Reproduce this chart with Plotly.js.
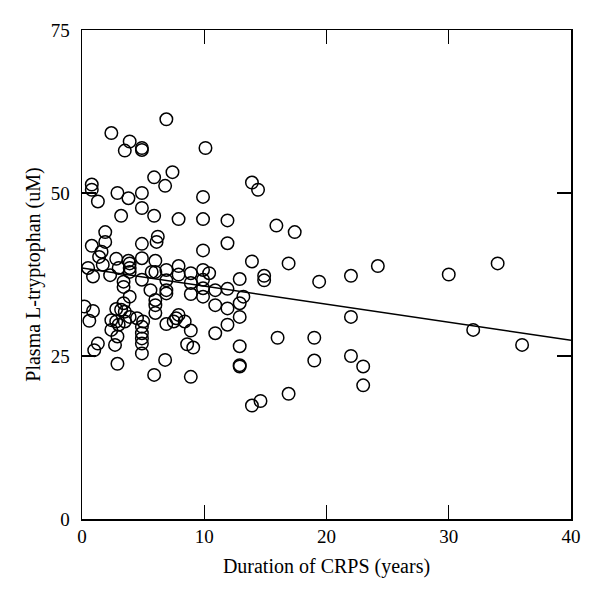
<!DOCTYPE html>
<html>
<head>
<meta charset="utf-8">
<script src="https://cdn.plot.ly/plotly-3.0.1.min.js"></script>
<style>html,body{margin:0;padding:0;background:#fff;}#chart{width:600px;height:599px;}</style>
</head>
<body>
<div id="chart"></div>
<script>
// Duration of CRPS (years)
const durationYears = [
  2.4,6.9,3.9,3.5,4.9,4.9,10.1,5.9,7.4,0.8,0.8,1.3,2.9,3.8,4.9,6.8,3.2,4.9,5.9,7.9,9.9,9.9,11.9,13.9,14.4,15.9,17.4,11.9,1.9,1.9,0.8,4.9,6.2,6.1,9.9,
  1.6,1.4,2.8,3.8,3.9,3.9,3.9,4.9,6.0,0.5,0.9,1.7,2.3,3.0,3.4,3.4,4.9,5.7,6.0,5.6,3.9,6.0,6.0,6.0,0.2,0.9,0.6,3.4,2.8,3.2,3.5,3.9,4.5,5.0,2.4,2.8,3.0,3.5,4.9,4.9,4.9,4.9,4.9,2.4,2.9,2.7,1.3,1.0,2.9,5.9,6.8,
  6.9,6.9,6.9,6.9,7.9,7.9,8.9,8.9,8.9,9.9,9.9,9.9,9.9,10.4,10.9,10.9,11.9,11.9,11.9,12.9,12.9,12.9,12.9,12.9,12.9,13.2,6.9,7.5,7.7,7.9,8.4,8.9,10.9,8.6,9.1,8.9,
  13.9,16.9,24.2,14.9,14.9,19.4,22.0,22.0,16.0,19.0,19.0,22.0,23.0,23.0,16.9,13.9,14.6,30.0,34.0,32.0,36.0
];
// Plasma L-tryptophan (uM)
const tryptophan = [
  59.2,61.3,57.9,56.5,56.9,56.6,56.9,52.4,53.2,51.3,50.5,48.7,50.0,49.2,50.0,51.1,46.5,47.7,46.5,46.0,49.4,46.0,45.8,51.6,50.5,45.0,44.0,42.3,44.0,42.5,41.9,42.2,43.3,42.5,41.2,
  41.0,40.2,39.9,39.6,39.2,38.5,37.9,40.0,39.6,38.5,37.2,39.0,37.4,38.5,36.4,35.6,36.7,37.9,37.9,35.1,34.1,33.6,32.8,31.6,32.6,31.9,30.4,33.1,32.2,32.1,31.8,31.0,30.8,30.3,30.5,30.3,29.8,30.3,29.5,28.5,27.7,26.9,25.4,29.0,28.0,26.7,26.9,25.9,23.8,22.1,24.4,
  38.2,36.6,35.1,34.6,38.8,37.5,37.7,36.2,34.5,38.2,36.7,35.4,34.1,37.7,35.1,32.8,35.3,32.3,29.8,36.8,33.1,31.0,26.5,23.6,23.4,34.1,29.9,30.3,30.8,31.3,30.3,28.9,28.5,26.8,26.3,21.8,
  39.5,39.2,38.8,37.3,36.6,36.4,37.3,31.0,27.8,27.8,24.3,25.0,23.4,20.5,19.2,17.4,18.1,37.5,39.2,29.0,26.7
];
// Fitted regression line
const fitX = [0, 40];
const fitY = [38.5, 27.4];

const xTicks = [0, 10, 20, 30, 40];
const yTicks = [0, 25, 50, 75];

const family = '"Liberation Serif", "DejaVu Serif", serif';
const tickFont = {family: family, size: 19, color: '#000'};
const titleFont = {family: family, size: 20, color: '#000'};

const traces = [
  {
    x: durationYears, y: tryptophan, type: 'scatter', mode: 'markers',
    marker: {symbol: 'circle-open', size: 12.5, color: '#000', line: {width: 1.5, color: '#000'}},
    hoverinfo: 'x+y', showlegend: false
  },
  {
    x: fitX, y: fitY, type: 'scatter', mode: 'lines',
    line: {color: '#000', width: 1.5}, showlegend: false
  }
];

const layout = {
  width: 600, height: 599,
  margin: {l: 82, r: 29, t: 30, b: 80},
  paper_bgcolor: '#fff', plot_bgcolor: '#fff',
  font: tickFont,
  showlegend: false,
  xaxis: {
    range: [0, 40], tickvals: xTicks, ticktext: xTicks.map(String),
    ticks: 'inside', ticklen: 14, tickwidth: 1.3, tickcolor: '#000',
    showline: true, linecolor: '#000', linewidth: 1.5, mirror: 'ticks',
    showgrid: false, zeroline: false,
    tickfont: tickFont,
    title: {text: 'Duration of CRPS (years)', font: titleFont, standoff: 12}
  },
  yaxis: {
    range: [0, 75], tickvals: yTicks, ticktext: yTicks.map(String),
    ticks: 'inside', ticklen: 14, tickwidth: 1.3, tickcolor: '#000',
    showline: true, linecolor: '#000', linewidth: 1.5, mirror: 'ticks',
    showgrid: false, zeroline: false,
    ticklabelstandoff: 7,
    tickfont: tickFont,
    title: {text: 'Plasma L-tryptophan (uM)', font: titleFont, standoff: 4}
  }
};

Plotly.newPlot('chart', traces, layout, {displayModeBar: false, staticPlot: true});
</script>
</body>
</html>
